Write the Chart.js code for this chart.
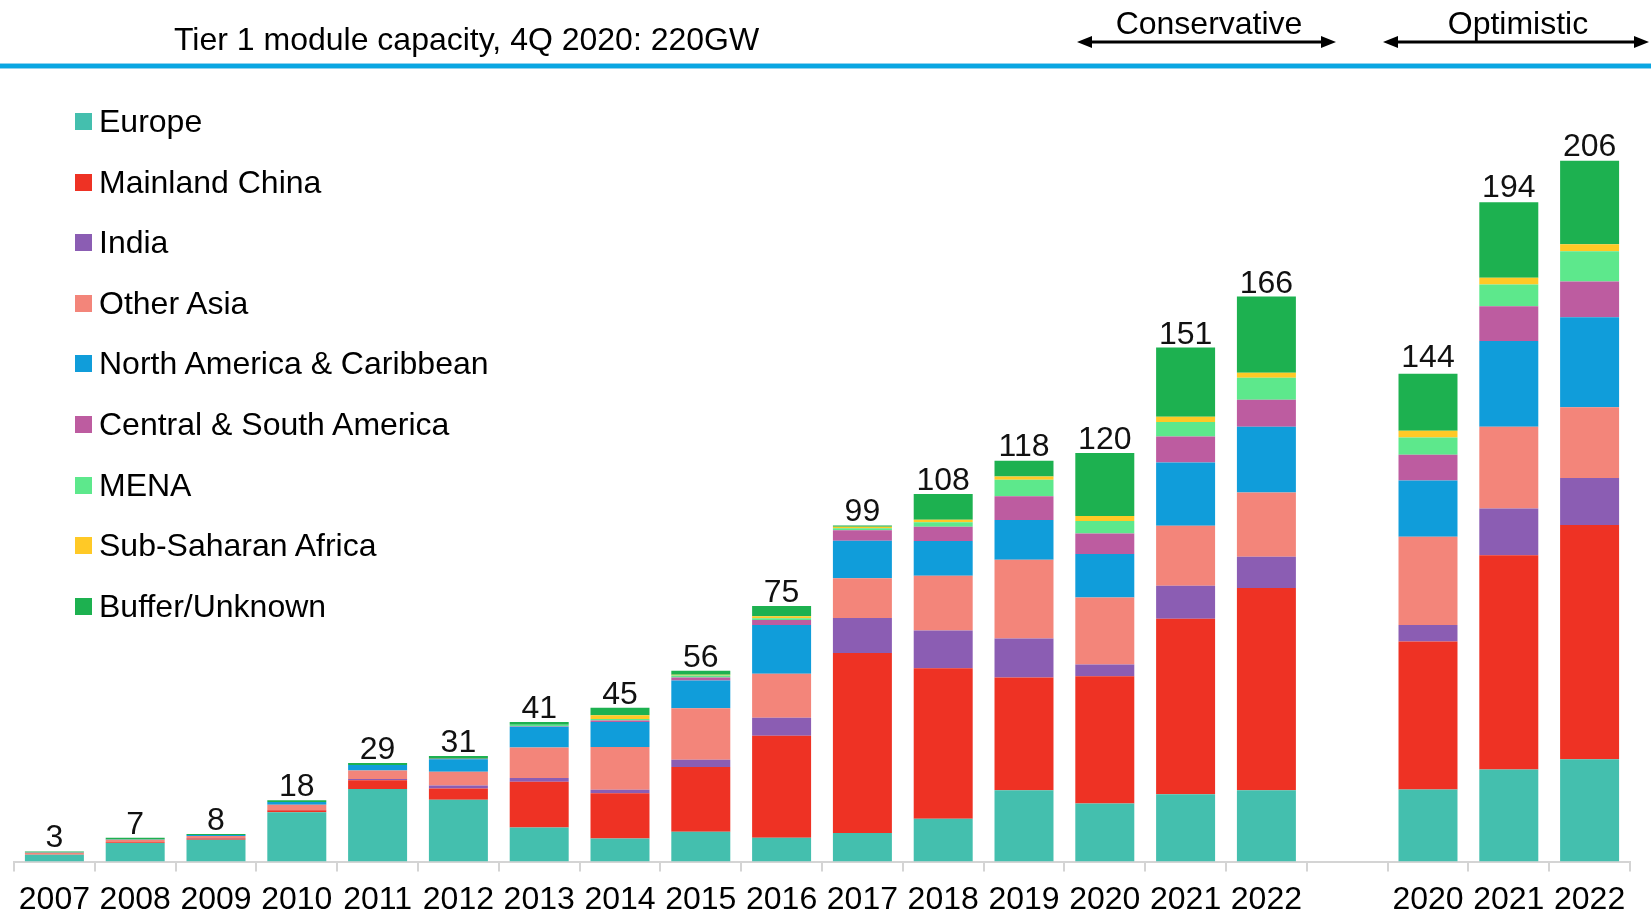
<!DOCTYPE html>
<html>
<head>
<meta charset="utf-8">
<script src="https://cdn.jsdelivr.net/npm/chart.js@4.4.1/dist/chart.umd.min.js"></script>
<style>
  html, body { margin: 0; padding: 0; background: #fff; }
  body { width: 1651px; height: 915px; position: relative; overflow: hidden;
         font-family: "Liberation Sans", Arial, sans-serif; color: #000; }
  #wrap { position: absolute; left: 0; top: 0; width: 1651px; height: 928px; }
  .txt { position: absolute; font-size: 32px; line-height: 1; white-space: nowrap; }
  #rule { position: absolute; left: 0; top: 64px; width: 1651px; height: 4px; background: #0AA6E2;
          box-shadow: 0 -1px 0 #8fd3f0, 0 1px 0 #8fd3f0; }
  #legend { position: absolute; left: 75px; top: 0; }
  .item { position: absolute; left: 0; height: 34px; }
  .sw { position: absolute; left: 0; top: 9px; width: 17px; height: 17px; }
  .lab { position: absolute; left: 24px; top: 0; font-size: 32px; line-height: 34px; white-space: nowrap; }
  svg { position: absolute; left: 0; top: 0; }
</style>
</head>
<body>
<div id="wrap"><canvas id="chart" width="1651" height="928"></canvas></div>
<div class="txt" style="left:174px; top:23px;">Tier 1 module capacity, 4Q 2020: 220GW</div>
<div class="txt" style="left:1209px; top:7px; transform:translateX(-50%);">Conservative</div>
<div class="txt" style="left:1518px; top:7px; transform:translateX(-50%);">Optimistic</div>
<svg width="1651" height="80">
  <g stroke="#000" stroke-width="3">
    <line x1="1088" y1="42" x2="1324" y2="42"/>
    <line x1="1394" y1="42" x2="1637" y2="42"/>
  </g>
  <g fill="#000">
    <polygon points="1077,42 1092,36 1092,48"/>
    <polygon points="1336,42 1321,36 1321,48"/>
    <polygon points="1383,42 1398,36 1398,48"/>
    <polygon points="1649,42 1634,36 1634,48"/>
  </g>
</svg>
<div id="rule"></div>
<div id="legend"></div>

<script>
// Categories (blank slot separates the two scenarios)
const years = ['2007', '2008', '2009', '2010', '2011', '2012', '2013', '2014', '2015', '2016',
               '2017', '2018', '2019', '2020', '2021', '2022', '', '2020', '2021', '2022'];

// Capacity by region, GW
const europe       = [2.0, 5.5, 6.4, 14.5, 21.3, 18.2, 10.0, 6.8, 8.8, 7.0, 8.4, 12.6, 21.0, 17.1, 19.8, 21.0, null, 21.2, 27.1, 30.1];
const china        = [0.1, 0.2, 0.4, 0.6, 2.6, 3.3, 13.5, 13.3, 19.0, 30.0, 52.9, 44.2, 33.1, 37.4, 51.6, 59.4, null, 43.5, 62.9, 68.8];
const india        = [0, 0, 0.1, 0.1, 0.4, 0.9, 1.1, 1.0, 2.1, 5.3, 10.3, 11.1, 11.5, 3.4, 9.7, 9.2, null, 4.8, 13.8, 13.8];
const otherAsia    = [0.5, 0.7, 0.6, 1.5, 2.5, 4.0, 8.9, 12.6, 15.2, 12.9, 11.7, 16.1, 23.1, 19.7, 17.6, 18.9, null, 26.0, 24.0, 20.8];
const northAmerica = [0.1, 0.1, 0.3, 0.8, 1.6, 3.7, 6.1, 7.3, 8.1, 14.3, 11.0, 10.2, 11.7, 12.8, 18.6, 19.3, null, 16.5, 25.2, 26.5];
const southAmerica = [0, 0, 0, 0, 0, 0.1, 0.2, 0.5, 0.9, 1.5, 3.1, 4.2, 7.0, 6.0, 7.6, 7.9, null, 7.6, 10.2, 10.5];
const mena         = [0, 0, 0, 0, 0, 0, 0.4, 0.4, 0.6, 0.5, 0.6, 1.3, 4.8, 3.7, 4.3, 6.5, null, 5.0, 6.4, 8.9];
const subSaharan   = [0, 0, 0, 0, 0, 0, 0, 1.1, 0.2, 0.6, 0.4, 0.8, 1.0, 1.5, 1.5, 1.5, null, 2.0, 2.0, 2.0];
const buffer       = [0.3, 0.5, 0.3, 0.5, 0.6, 0.8, 0.8, 2.2, 1.2, 3.0, 0.4, 7.5, 4.6, 18.5, 20.4, 22.4, null, 16.8, 22.2, 24.6];

// Total labels above bars
const totals = [3, 7, 8, 18, 29, 31, 41, 45, 56, 75, 99, 108, 118, 120, 151, 166, null, 144, 194, 206];

const series = [
    { label: 'Europe', data: europe, color: '#44BFAE' },
    { label: 'Mainland China', data: china, color: '#EE3224' },
    { label: 'India', data: india, color: '#8B5DB3' },
    { label: 'Other Asia', data: otherAsia, color: '#F3857A' },
    { label: 'North America & Caribbean', data: northAmerica, color: '#109DDA' },
    { label: 'Central & South America', data: southAmerica, color: '#BD5CA0' },
    { label: 'MENA', data: mena, color: '#5DE88C' },
    { label: 'Sub-Saharan Africa', data: subSaharan, color: '#FFC926' },
    { label: 'Buffer/Unknown', data: buffer, color: '#1DB150' }
];

// Legend (HTML, top-left inside the plot)
const legend = document.getElementById('legend');
series.forEach((s, i) => {
    const item = document.createElement('div');
    item.className = 'item';
    item.style.top = (104 + i * 60.6) + 'px';
    item.innerHTML = `<div class="sw" style="background:${s.color}"></div><div class="lab">${s.label}</div>`;
    legend.appendChild(item);
});

const totalLabels = {
    id: 'totalLabels',
    afterDatasetsDraw(chart) {
        const ctx = chart.ctx;
        const x = chart.scales.x;
        const y = chart.scales.y;
        ctx.save();
        ctx.font = '32px "Liberation Sans", Arial, sans-serif';
        ctx.fillStyle = '#111';
        ctx.textAlign = 'center';
        ctx.textBaseline = 'bottom';
        totals.forEach((t, i) => {
            if (t == null) return;
            ctx.fillText(String(t), x.getPixelForValue(i), y.getPixelForValue(t) + 3);
        });
        ctx.restore();
    }
};

new Chart(document.getElementById('chart'), {
    type: 'bar',
    data: {
        labels: years,
        datasets: series.map(s => ({
            label: s.label,
            data: s.data,
            backgroundColor: s.color,
            borderWidth: 0,
            barPercentage: 0.73,
            categoryPercentage: 1
        }))
    },
    options: {
        responsive: false,
        animation: false,
        layout: { padding: { left: 14, right: 21, top: 113, bottom: 0 } },
        plugins: {
            legend: { display: false },
            tooltip: { enabled: false }
        },
        scales: {
            x: {
                stacked: true,
                grid: { drawOnChartArea: false, drawTicks: true, tickLength: 10, color: '#D4D4D4', lineWidth: 2 },
                border: { color: '#D4D4D4', width: 2 },
                ticks: {
                    color: '#000',
                    padding: 9,
                    maxRotation: 0,
                    autoSkip: false,
                    font: { family: '"Liberation Sans", Arial, sans-serif', size: 32 }
                }
            },
            y: {
                stacked: true,
                display: false,
                min: 0,
                max: 220
            }
        }
    },
    plugins: [totalLabels]
});
</script>
</body>
</html>
